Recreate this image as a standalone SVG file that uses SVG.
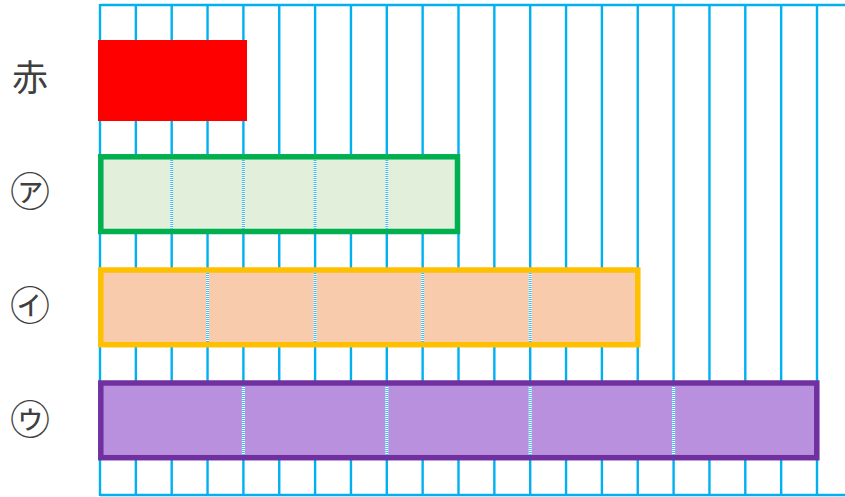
<svg xmlns="http://www.w3.org/2000/svg" width="845" height="497" viewBox="0 0 845 497">
<defs>
<style>
.grid line{stroke:#00B0F0;stroke-width:2.4}
.lbl{font-family:"Noto Sans CJK JP","Noto Sans CJK SC",sans-serif;fill:#404040;text-anchor:middle}
.divw{stroke:#ffffff;stroke-width:3}
.divb{stroke:#3FBEF3;stroke-width:3;stroke-dasharray:1 1}
</style>
</defs>
<rect width="845" height="497" fill="#ffffff"/>
<g id="grid" class="grid">
<line x1="100" y1="5" x2="845" y2="5"/>
<line x1="100" y1="495" x2="845" y2="495"/>
<line x1="100" y1="4" x2="100" y2="496"/>
<line x1="135.85" y1="5" x2="135.85" y2="495"/>
<line x1="171.7" y1="5" x2="171.7" y2="495"/>
<line x1="207.55" y1="5" x2="207.55" y2="495"/>
<line x1="243.4" y1="5" x2="243.4" y2="495"/>
<line x1="279.25" y1="5" x2="279.25" y2="495"/>
<line x1="315.1" y1="5" x2="315.1" y2="495"/>
<line x1="350.95" y1="5" x2="350.95" y2="495"/>
<line x1="386.8" y1="5" x2="386.8" y2="495"/>
<line x1="422.65" y1="5" x2="422.65" y2="495"/>
<line x1="458.5" y1="5" x2="458.5" y2="495"/>
<line x1="494.35" y1="5" x2="494.35" y2="495"/>
<line x1="530.2" y1="5" x2="530.2" y2="495"/>
<line x1="566.05" y1="5" x2="566.05" y2="495"/>
<line x1="601.9" y1="5" x2="601.9" y2="495"/>
<line x1="637.75" y1="5" x2="637.75" y2="495"/>
<line x1="673.6" y1="5" x2="673.6" y2="495"/>
<line x1="709.45" y1="5" x2="709.45" y2="495"/>
<line x1="745.3" y1="5" x2="745.3" y2="495"/>
<line x1="781.15" y1="5" x2="781.15" y2="495"/>
<line x1="817" y1="5" x2="817" y2="495"/>
</g>
<g id="red">
<rect x="98" y="40" width="149" height="81" fill="#FF0000"/>
<text class="lbl" x="30" y="91" font-size="36">赤</text>
</g>
<g id="a">
<rect x="100.8" y="156.8" width="356.7" height="74.7" fill="#E2EFDA" stroke="#00B050" stroke-width="5.5"/>
<line class="divw" x1="171.7" y1="160" x2="171.7" y2="229"/><line class="divb" x1="171.7" y1="160" x2="171.7" y2="229"/>
<line class="divw" x1="243.4" y1="160" x2="243.4" y2="229"/><line class="divb" x1="243.4" y1="160" x2="243.4" y2="229"/>
<line class="divw" x1="315.1" y1="160" x2="315.1" y2="229"/><line class="divb" x1="315.1" y1="160" x2="315.1" y2="229"/>
<line class="divw" x1="386.8" y1="160" x2="386.8" y2="229"/><line class="divb" x1="386.8" y1="160" x2="386.8" y2="229"/>
<text class="lbl" x="30" y="206" font-size="40">㋐</text>
</g>
<g id="i">
<rect x="100.8" y="270" width="537" height="74.7" fill="#F8CBAD" stroke="#FFC000" stroke-width="5.5"/>
<line class="divw" x1="207.55" y1="273" x2="207.55" y2="342"/><line class="divb" x1="207.55" y1="273" x2="207.55" y2="342"/>
<line class="divw" x1="315.1" y1="273" x2="315.1" y2="342"/><line class="divb" x1="315.1" y1="273" x2="315.1" y2="342"/>
<line class="divw" x1="422.65" y1="273" x2="422.65" y2="342"/><line class="divb" x1="422.65" y1="273" x2="422.65" y2="342"/>
<line class="divw" x1="530.2" y1="273" x2="530.2" y2="342"/><line class="divb" x1="530.2" y1="273" x2="530.2" y2="342"/>
<text class="lbl" x="30" y="320" font-size="40">㋑</text>
</g>
<g id="u">
<rect x="100.8" y="383" width="716" height="74.7" fill="#B990DD" stroke="#7030A0" stroke-width="5.5"/>
<line class="divw" x1="243.4" y1="386" x2="243.4" y2="455"/><line class="divb" x1="243.4" y1="386" x2="243.4" y2="455"/>
<line class="divw" x1="386.8" y1="386" x2="386.8" y2="455"/><line class="divb" x1="386.8" y1="386" x2="386.8" y2="455"/>
<line class="divw" x1="530.2" y1="386" x2="530.2" y2="455"/><line class="divb" x1="530.2" y1="386" x2="530.2" y2="455"/>
<line class="divw" x1="673.6" y1="386" x2="673.6" y2="455"/><line class="divb" x1="673.6" y1="386" x2="673.6" y2="455"/>
<text class="lbl" x="30" y="434" font-size="40">㋒</text>
</g>
</svg>
